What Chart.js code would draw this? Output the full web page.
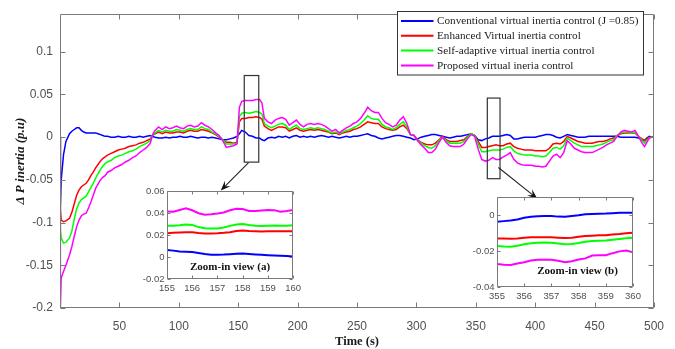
<!DOCTYPE html>
<html><head><meta charset="utf-8">
<script src="https://cdn.jsdelivr.net/npm/chart.js@4.4.1/dist/chart.umd.min.js"></script>
<style>
html,body{margin:0;padding:0;background:#fff;}
#wrap{position:relative;width:675px;height:349px;overflow:hidden;background:#fff;}
canvas{position:absolute;}
</style></head><body>
<div id="wrap">
<canvas id="main" width="675" height="349" style="left:0;top:0;width:675px;height:349px"></canvas>
<canvas id="insetA" width="175" height="120" style="left:130px;top:180px;width:175px;height:120px"></canvas>
<canvas id="insetB" width="190" height="120" style="left:460px;top:185px;width:190px;height:120px"></canvas>
</div>
<script>
// ---------------- data ----------------
const seriesNames = [
  'Conventional virtual inertia control (J =0.85)',
  'Enhanced Virtual inertia control',
  'Self-adaptive virtual inertia control',
  'Proposed virtual ineria control'
];
const seriesColors = ['#0000ff', '#ff0000', '#00ff00', '#ff00ff'];

const time = [
  0, 0.3, 1, 3, 5, 8, 10, 12, 14, 16,
  18, 20, 22, 24, 26, 28, 30, 32, 34, 36,
  38, 40, 43, 46, 49, 52, 55, 58, 61, 64,
  67, 70, 73, 76, 78, 80, 83, 86, 89, 92,
  95, 98, 101, 104, 107, 110, 113, 116, 119, 122,
  125, 128, 131, 134, 137, 140, 143, 146, 149, 151,
  153, 156, 159, 162, 165, 168, 170, 172, 175, 178,
  181, 184, 187, 190, 193, 196, 199, 202, 205, 208,
  211, 214, 217, 220, 223, 226, 229, 232, 235, 238,
  241, 244, 247, 250, 253, 256, 259, 262, 265, 268,
  271, 274, 277, 280, 283, 286, 289, 292, 295, 298,
  301, 304, 307, 310, 313, 316, 319, 322, 325, 328,
  331, 334, 337, 340, 343, 346, 349, 352, 355, 358,
  361, 364, 367, 370, 373, 376, 379, 382, 385, 388,
  391, 394, 397, 400, 403, 406, 409, 412, 415, 418,
  421, 424, 427, 430, 433, 436, 439, 442, 445, 448,
  451, 454, 457, 460, 463, 466, 469, 472, 475, 478,
  481, 484, 487, 490, 492, 494, 496, 498, 500
];
const conventional = [
  0, -0.080, -0.050, -0.020, -0.005, 0.004, 0.007, 0.009, 0.011, 0.011,
  0.008, 0.006, 0.005, 0.005, 0.005, 0.005, 0.005, 0.004, 0.003, 0.002,
  0.001, 0.001, 0.000, 0.000, 0.001, 0.000, 0.000, 0.001, 0.000, 0.000,
  0.001, 0.000, 0.001, 0.002, 0.001, 0.000, -0.001, -0.001, 0.000, -0.001,
  0.000, 0.000, 0.001, 0.000, 0.000, 0.001, 0.000, -0.001, 0.000, 0.000,
  -0.001, 0.000, -0.001, -0.002, -0.003, -0.003, -0.002, -0.001, 0.001, 0.004,
  0.008, 0.006, 0.002, 0.001, -0.001, -0.001, -0.003, -0.004, -0.001, 0.000,
  -0.001, 0.001, 0.000, 0.001, -0.001, 0.001, 0.002, 0.000, 0.001, 0.000,
  0.001, 0.000, 0.001, 0.002, 0.001, 0.000, 0.001, 0.000, -0.001, 0.000,
  0.001, 0.000, 0.001, 0.001, 0.002, 0.003, 0.004, 0.002, 0.001, -0.001,
  -0.002, -0.001, 0.000, 0.001, 0.002, 0.002, 0.001, 0.000, -0.001, -0.003,
  -0.002, 0.000, 0.001, 0.002, 0.003, 0.003, 0.002, 0.001, 0.000, -0.001,
  0.000, 0.001, 0.001, 0.002, 0.003, 0.004, 0.002, -0.003, -0.004, -0.002,
  -0.001, 0.001, 0.001, 0.001, 0.002, 0.003, 0.002, -0.002, -0.002, -0.001,
  0.000, 0.000, 0.000, 0.000, 0.001, 0.002, 0.003, 0.003, 0.002, 0.000,
  -0.001, 0.001, 0.003, 0.002, 0.001, 0.000, 0.000, 0.000, 0.001, 0.001,
  0.001, 0.001, 0.001, 0.001, 0.001, 0.001, 0.001, 0.000, 0.000, 0.000,
  0.000, 0.000, -0.001, -0.003, -0.004, -0.001, 0.001, 0.000, 0.000
];
const enhanced = [
  0, -0.085, -0.097, -0.099, -0.098, -0.095, -0.088, -0.078, -0.068, -0.062,
  -0.058, -0.056, -0.054, -0.050, -0.045, -0.041, -0.036, -0.032, -0.028, -0.025,
  -0.023, -0.021, -0.019, -0.017, -0.015, -0.014, -0.013, -0.011, -0.010, -0.009,
  -0.007, -0.006, -0.004, -0.002, 0.002, 0.004, 0.006, 0.004, 0.006, 0.005,
  0.005, 0.006, 0.006, 0.005, 0.007, 0.008, 0.007, 0.007, 0.009, 0.008,
  0.007, 0.005, 0.003, 0.000, -0.003, -0.006, -0.006, -0.007, -0.006, 0.018,
  0.022, 0.022, 0.023, 0.023, 0.024, 0.023, 0.021, 0.013, 0.010, 0.008,
  0.010, 0.012, 0.012, 0.011, 0.007, 0.009, 0.011, 0.008, 0.007, 0.008,
  0.009, 0.008, 0.009, 0.008, 0.007, 0.006, 0.004, 0.005, 0.003, 0.005,
  0.006, 0.007, 0.009, 0.010, 0.012, 0.015, 0.018, 0.017, 0.016, 0.016,
  0.012, 0.010, 0.009, 0.008, 0.009, 0.012, 0.014, 0.010, 0.003, 0.002,
  -0.003, -0.006, -0.008, -0.009, -0.009, -0.007, -0.003, 0.001, -0.003, -0.005,
  -0.005, -0.005, -0.004, -0.003, 0.001, 0.004, 0.002, -0.005, -0.012, -0.012,
  -0.011, -0.010, -0.009, -0.010, -0.010, -0.008, -0.007, -0.011, -0.013, -0.014,
  -0.015, -0.015, -0.015, -0.016, -0.016, -0.016, -0.016, -0.013, -0.008, -0.007,
  -0.008, -0.005, 0.001, -0.001, -0.003, -0.005, -0.006, -0.007, -0.007, -0.007,
  -0.006, -0.005, -0.005, -0.004, -0.002, -0.001, 0.002, 0.004, 0.005, 0.005,
  0.005, 0.005, 0.001, -0.002, -0.004, -0.002, 0.000, 0.000, 0.000
];
const selfAdaptive = [
  0, -0.108, -0.118, -0.124, -0.123, -0.118, -0.110, -0.096, -0.084, -0.077,
  -0.073, -0.071, -0.069, -0.064, -0.059, -0.054, -0.048, -0.043, -0.038, -0.034,
  -0.031, -0.029, -0.027, -0.024, -0.022, -0.021, -0.019, -0.017, -0.016, -0.014,
  -0.011, -0.009, -0.007, -0.004, 0.002, 0.005, 0.008, 0.006, 0.008, 0.007,
  0.007, 0.009, 0.008, 0.007, 0.009, 0.010, 0.009, 0.009, 0.012, 0.010,
  0.009, 0.006, 0.004, 0.001, -0.003, -0.008, -0.008, -0.008, -0.007, 0.024,
  0.028, 0.029, 0.028, 0.029, 0.030, 0.029, 0.027, 0.016, 0.013, 0.011,
  0.013, 0.015, 0.016, 0.014, 0.009, 0.012, 0.014, 0.010, 0.009, 0.010,
  0.011, 0.010, 0.011, 0.010, 0.009, 0.007, 0.005, 0.006, 0.004, 0.006,
  0.008, 0.009, 0.011, 0.013, 0.016, 0.020, 0.025, 0.022, 0.021, 0.021,
  0.015, 0.012, 0.011, 0.009, 0.011, 0.015, 0.018, 0.012, 0.003, 0.002,
  -0.004, -0.007, -0.010, -0.012, -0.013, -0.010, -0.004, 0.000, -0.004, -0.007,
  -0.007, -0.007, -0.007, -0.005, 0.000, 0.004, 0.002, -0.008, -0.017, -0.017,
  -0.016, -0.015, -0.015, -0.015, -0.014, -0.012, -0.011, -0.016, -0.019, -0.020,
  -0.021, -0.021, -0.021, -0.022, -0.022, -0.023, -0.022, -0.018, -0.013, -0.012,
  -0.014, -0.010, -0.001, -0.004, -0.007, -0.009, -0.011, -0.011, -0.011, -0.011,
  -0.010, -0.009, -0.008, -0.006, -0.004, -0.003, 0.002, 0.005, 0.006, 0.006,
  0.005, 0.006, 0.001, -0.004, -0.007, -0.004, -0.001, 0.000, 0.000
];
const proposed = [
  0, -0.200, -0.165, -0.157, -0.150, -0.138, -0.128, -0.116, -0.105, -0.097,
  -0.092, -0.090, -0.089, -0.083, -0.076, -0.068, -0.060, -0.055, -0.050, -0.047,
  -0.045, -0.041, -0.039, -0.036, -0.034, -0.032, -0.029, -0.027, -0.024, -0.022,
  -0.018, -0.015, -0.012, -0.007, 0.003, 0.008, 0.012, 0.009, 0.012, 0.010,
  0.011, 0.013, 0.011, 0.010, 0.013, 0.014, 0.012, 0.013, 0.017, 0.014,
  0.012, 0.009, 0.005, 0.002, -0.004, -0.012, -0.011, -0.010, -0.008, 0.035,
  0.042, 0.043, 0.043, 0.043, 0.044, 0.044, 0.040, 0.022, 0.018, 0.016,
  0.020, 0.022, 0.023, 0.021, 0.014, 0.017, 0.020, 0.015, 0.012, 0.015,
  0.016, 0.015, 0.016, 0.015, 0.013, 0.010, 0.007, 0.009, 0.005, 0.008,
  0.011, 0.013, 0.016, 0.018, 0.022, 0.028, 0.035, 0.031, 0.029, 0.029,
  0.022, 0.017, 0.015, 0.012, 0.014, 0.020, 0.024, 0.016, 0.003, 0.002,
  -0.004, -0.009, -0.013, -0.018, -0.018, -0.014, -0.006, 0.000, -0.006, -0.010,
  -0.011, -0.011, -0.011, -0.008, -0.002, 0.003, 0.001, -0.014, -0.026, -0.028,
  -0.027, -0.024, -0.026, -0.026, -0.023, -0.021, -0.018, -0.026, -0.030, -0.032,
  -0.033, -0.033, -0.033, -0.034, -0.034, -0.035, -0.034, -0.028, -0.022, -0.020,
  -0.024, -0.018, -0.004, -0.008, -0.013, -0.015, -0.017, -0.018, -0.018, -0.018,
  -0.016, -0.014, -0.012, -0.009, -0.007, -0.005, 0.001, 0.006, 0.008, 0.007,
  0.006, 0.008, 0.001, -0.007, -0.011, -0.006, -0.001, 0.000, 0.000
];
const xTicks = [50, 100, 150, 200, 250, 300, 350, 400, 450, 500];
const xTickLabels = ['50', '100', '150', '200', '250', '300', '350', '400', '450', '500'];
const yTicks = [-0.2, -0.15, -0.1, -0.05, 0, 0.05, 0.1];
const yTickLabels = ['-0.2', '-0.15', '-0.1', '-0.05', '0', '0.05', '0.1'];

// zoom-in view (a)
const zoomATime = [155, 155.25, 155.5, 155.75, 156, 156.25, 156.5, 156.75, 157, 157.25, 157.5, 157.75, 158, 158.25, 158.5, 158.75, 159, 159.25, 159.5, 159.75, 160];
const zoomABlue = [0.0063, 0.0058, 0.0051, 0.0048, 0.0046, 0.0036, 0.0027, 0.0021, 0.002, 0.0022, 0.0026, 0.003, 0.0031, 0.0027, 0.0023, 0.002, 0.0017, 0.0014, 0.0011, 0.0008, 0.0005];
const zoomARed = [0.0217, 0.022, 0.0223, 0.0226, 0.0224, 0.0218, 0.0214, 0.0214, 0.0216, 0.022, 0.0226, 0.0236, 0.024, 0.0236, 0.0234, 0.0232, 0.0233, 0.0234, 0.0235, 0.0235, 0.0235];
const zoomAGreen = [0.0283, 0.0285, 0.0289, 0.0296, 0.0292, 0.0272, 0.0262, 0.0259, 0.026, 0.0268, 0.0283, 0.0296, 0.03, 0.029, 0.0284, 0.0281, 0.0285, 0.0286, 0.0283, 0.0285, 0.0289];
const zoomAMagenta = [0.0413, 0.0412, 0.0427, 0.0442, 0.0425, 0.0398, 0.0385, 0.0388, 0.0395, 0.0405, 0.0425, 0.0438, 0.0437, 0.0418, 0.0419, 0.0423, 0.0428, 0.0426, 0.0412, 0.0419, 0.0428];
const zoomAXTicks = [155, 156, 157, 158, 159, 160];
const zoomAYTicks = [-0.02, 0, 0.02, 0.04, 0.06];
const zoomAYTickLabels = ['-0.02', '0', '0.02', '0.04', '0.06'];

// zoom-in view (b)
const zoomBTime = [355, 355.25, 355.5, 355.75, 356, 356.25, 356.5, 356.75, 357, 357.25, 357.5, 357.75, 358, 358.25, 358.5, 358.75, 359, 359.25, 359.5, 359.75, 360];
const zoomBBlue = [-0.0038, -0.0034, -0.003, -0.0025, -0.0015, -0.001, -0.0007, -0.0005, -0.0005, -0.0009, -0.001, -0.0005, -0.0001, 0.0004, 0.0006, 0.0007, 0.0008, 0.001, 0.0012, 0.0012, 0.0012];
const zoomBRed = [-0.013, -0.0131, -0.0132, -0.013, -0.0127, -0.0124, -0.0123, -0.0123, -0.0124, -0.0126, -0.0128, -0.0127, -0.0121, -0.0117, -0.0115, -0.0113, -0.0112, -0.0109, -0.0106, -0.0101, -0.0098];
const zoomBGreen = [-0.0172, -0.0175, -0.0176, -0.0171, -0.0163, -0.0157, -0.0154, -0.0153, -0.0154, -0.0158, -0.0163, -0.0161, -0.0156, -0.0149, -0.0145, -0.0143, -0.0141, -0.0137, -0.0133, -0.0129, -0.0127];
const zoomBMagenta = [-0.0272, -0.0276, -0.0278, -0.027, -0.0262, -0.0253, -0.0249, -0.0249, -0.0249, -0.0254, -0.0263, -0.0257, -0.0247, -0.0241, -0.0225, -0.0224, -0.0224, -0.0212, -0.0202, -0.0197, -0.0207];
const zoomBXTicks = [355, 356, 357, 358, 359, 360];
const zoomBYTicks = [-0.04, -0.02, 0];
const zoomBYTickLabels = ['-0.04', '-0.02', '0'];

// annotation boxes / arrows in data units
const boxA = {x0: 155.1, x1: 167.3, y0: -0.0292, y1: 0.0722};
const boxB = {x0: 359.7, x1: 370.4, y0: -0.0486, y1: 0.0458};
const arrowA = {x0: 158.7, y0: -0.0298, x1: 135.3, y1: -0.0625};
const arrowB = {x0: 369.0, y0: -0.0355, x1: 401.8, y1: -0.0720};

// ---------------- drawing ----------------
const SANS = '"Liberation Sans", Arial, sans-serif';
const SERIF = '"Liberation Serif", "Times New Roman", serif';
const TICKC = '#505050';
const AXC = '#7a7a7a';

function xy(t, v) { return t.map((x, i) => ({x: x, y: v[i]})); }
function makeSets(t, arrs, w) {
  return arrs.map((a, i) => ({
    label: seriesNames[i], data: xy(t, a), borderColor: seriesColors[i],
    backgroundColor: seriesColors[i], borderWidth: w, pointRadius: 0,
    tension: 0, fill: false, order: 4 - i
  }));
}
function framePlugin(xt, yt, len, fillWhite) {
  return {
    id: 'frame',
    beforeDatasetsDraw(chart) {
      if (!fillWhite) return;
      const {ctx, chartArea: a} = chart;
      ctx.save(); ctx.fillStyle = '#fff';
      ctx.fillRect(a.left, a.top, a.right - a.left, a.bottom - a.top);
      ctx.restore();
    },
    afterDatasetsDraw(chart) {
      const {ctx, chartArea: a, scales: {x, y}} = chart;
      ctx.save(); ctx.strokeStyle = AXC; ctx.lineWidth = 1;
      const L = Math.round(a.left) + 0.5, R = Math.round(a.right) - 0.5;
      const T = Math.round(a.top) + 0.5, B = Math.round(a.bottom) - 0.5;
      ctx.beginPath();
      ctx.rect(L, T, R - L, B - T);
      xt.forEach(v => { const p = Math.round(x.getPixelForValue(v)) + 0.5;
        ctx.moveTo(p, B); ctx.lineTo(p, B - len); ctx.moveTo(p, T); ctx.lineTo(p, T + len); });
      yt.forEach(v => { const p = Math.round(y.getPixelForValue(v)) + 0.5;
        ctx.moveTo(L, p); ctx.lineTo(L + len, p); ctx.moveTo(R, p); ctx.lineTo(R - len, p); });
      ctx.stroke(); ctx.restore();
    }
  };
}
function drawArrow(ctx, x0, y0, x1, y1) {
  const ang = Math.atan2(y1 - y0, x1 - x0);
  const hl = 10, hw = 4;
  ctx.beginPath(); ctx.moveTo(x0, y0);
  ctx.lineTo(x1 - Math.cos(ang) * hl * 0.6, y1 - Math.sin(ang) * hl * 0.6); ctx.stroke();
  ctx.save(); ctx.translate(x1, y1); ctx.rotate(ang);
  ctx.beginPath(); ctx.moveTo(0, 0); ctx.lineTo(-hl, -hw); ctx.lineTo(-hl * 0.6, 0); ctx.lineTo(-hl, hw);
  ctx.closePath(); ctx.fill(); ctx.restore();
}
const annotPlugin = {
  id: 'annot',
  afterDraw(chart) {
    const {ctx, scales: {x, y}} = chart;
    ctx.save();
    ctx.strokeStyle = '#333'; ctx.lineWidth = 1.2;
    [boxA, boxB].forEach(b => {
      const l = x.getPixelForValue(b.x0), r = x.getPixelForValue(b.x1);
      const t = y.getPixelForValue(b.y1), bt = y.getPixelForValue(b.y0);
      ctx.strokeRect(l, t, r - l, bt - t);
    });
    ctx.strokeStyle = '#222'; ctx.fillStyle = '#111'; ctx.lineWidth = 1.1;
    [arrowA, arrowB].forEach(a => drawArrow(ctx, x.getPixelForValue(a.x0), y.getPixelForValue(a.y0),
      x.getPixelForValue(a.x1), y.getPixelForValue(a.y1)));
    // legend
    const lx = 397.5, ly = 11.5, lw = 246, lh = 63.5;
    ctx.fillStyle = '#fff'; ctx.fillRect(lx, ly, lw, lh);
    ctx.strokeStyle = '#333'; ctx.lineWidth = 1; ctx.strokeRect(lx, ly, lw, lh);
    ctx.font = '11.2px ' + SERIF; ctx.textBaseline = 'middle'; ctx.textAlign = 'left';
    chart.data.datasets.forEach((d, i) => {
      const ry = ly + 9.5 + i * 14.8;
      ctx.strokeStyle = d.borderColor; ctx.lineWidth = 2;
      ctx.beginPath(); ctx.moveTo(lx + 3.5, ry); ctx.lineTo(lx + 36, ry); ctx.stroke();
      ctx.fillStyle = '#1a1a1a'; ctx.fillText(d.label, lx + 39.5, ry + 0.5);
    });
    ctx.restore();
  }
};

new Chart(document.getElementById('main'), {
  type: 'line',
  data: {datasets: makeSets(time, [conventional, enhanced, selfAdaptive, proposed], 1.5)},
  options: {
    responsive: false, animation: false, devicePixelRatio: 1,
    layout: {padding: {left: 0, right: 21, top: 8, bottom: 0}},
    plugins: {legend: {display: false}, tooltip: {enabled: false}},
    scales: {
      x: {
        type: 'linear', min: 0, max: 500,
        afterFit: s => { s.height = 41; },
        afterBuildTicks: s => { s.ticks = xTicks.map(v => ({value: v})); },
        grid: {display: false, drawTicks: false}, border: {display: false},
        ticks: {autoSkip: false, maxRotation: 0, color: TICKC, padding: 11,
          font: {family: SANS, size: 12},
          callback: v => xTickLabels[xTicks.indexOf(v)]},
        title: {display: true, text: 'Time (s)', color: '#1a1a1a',
          font: {family: SERIF, size: 12.5, weight: 'bold'}, padding: {top: 5, bottom: 0}}
      },
      y: {
        type: 'linear', min: -0.2, max: 0.144,
        afterFit: s => { s.width = 60; },
        afterBuildTicks: s => { s.ticks = yTicks.map(v => ({value: v})); },
        grid: {display: false, drawTicks: false}, border: {display: false},
        ticks: {autoSkip: false, color: TICKC, padding: 7, font: {family: SANS, size: 12},
          callback: v => yTickLabels[yTicks.indexOf(v)]},
        title: {display: true, text: '\u0394 P inertia (p.u)', color: '#1a1a1a',
          font: {family: SERIF, size: 13, weight: 'bold', style: 'italic'}, padding: {top: 13, bottom: 0}}
      }
    }
  },
  plugins: [framePlugin(xTicks, yTicks, 5, false), annotPlugin]
});

function inset(id, t, arrs, xmin, xmax, ymin, ymax, xt, yt, ytl, pad, yW, xH, label, lblDx, lblDy) {
  const textPlugin = {
    id: 'lbl',
    afterDraw(chart) {
      const {ctx, chartArea: a} = chart;
      ctx.save(); ctx.font = 'bold 11px ' + SERIF; ctx.fillStyle = '#111';
      ctx.textAlign = 'center'; ctx.textBaseline = 'middle';
      ctx.fillText(label, (a.left + a.right) / 2 + lblDx, a.bottom - lblDy);
      ctx.restore();
    }
  };
  new Chart(document.getElementById(id), {
    type: 'line',
    data: {datasets: makeSets(t, arrs, 2)},
    options: {
      responsive: false, animation: false, devicePixelRatio: 1,
      layout: {padding: pad},
      plugins: {legend: {display: false}, tooltip: {enabled: false}},
      scales: {
        x: {type: 'linear', min: xmin, max: xmax,
          afterFit: s => { s.height = xH; },
          afterBuildTicks: s => { s.ticks = xt.map(v => ({value: v})); },
          grid: {display: false, drawTicks: false}, border: {display: false},
          ticks: {autoSkip: false, maxRotation: 0, color: TICKC, padding: 4, font: {family: SANS, size: 9.5},
            callback: v => String(v)}},
        y: {type: 'linear', min: ymin, max: ymax,
          afterFit: s => { s.width = yW; },
          afterBuildTicks: s => { s.ticks = yt.map(v => ({value: v})); },
          grid: {display: false, drawTicks: false}, border: {display: false},
          ticks: {autoSkip: false, color: TICKC, padding: 2.5, font: {family: SANS, size: 9.5},
            callback: v => ytl[yt.indexOf(v)]}}
      }
    },
    plugins: [framePlugin(xt, yt, 3, true), textPlugin]
  });
}
inset('insetA', zoomATime, [zoomABlue, zoomARed, zoomAGreen, zoomAMagenta], 155, 160, -0.02, 0.06,
  zoomAXTicks, zoomAYTicks, zoomAYTickLabels, {left: 0, right: 11, top: 11, bottom: 0}, 37, 21,
  'Zoom-in view (a)', 0, 11.5);
inset('insetB', zoomBTime, [zoomBBlue, zoomBRed, zoomBGreen, zoomBMagenta], 355, 360, -0.04, 0.01,
  zoomBXTicks, zoomBYTicks, zoomBYTickLabels, {left: 0, right: 17, top: 12, bottom: 0}, 37, 18,
  'Zoom-in view (b)', 12.5, 15.5);
</script>
</body></html>
